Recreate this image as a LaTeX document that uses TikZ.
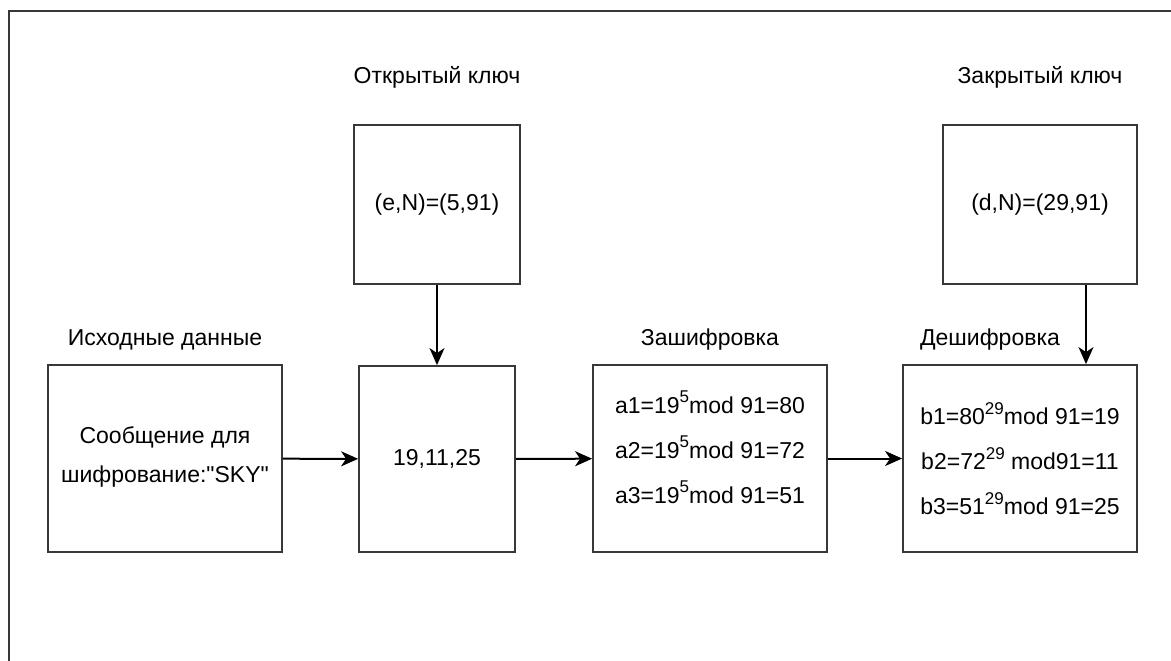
\documentclass[tikz,border=0pt]{standalone}
\usepackage{fontspec}
\setmainfont{Liberation Sans}[Ligatures=TeXOff]
\usepackage{xcolor}
\definecolor{frame}{rgb}{0.22, 0.22, 0.22}
\usetikzlibrary{positioning,arrows.meta}

\newcommand{\pow}[1]{\raisebox{0.45em}{\fontsize{17}{17}\selectfont #1}}

\tikzset{
	box/.style={draw=frame, line width=1.8pt, font=\fontsize{23}{39}\selectfont, align=center, inner sep=0pt},
	title/.style={font=\fontsize{23}{28}\selectfont, inner sep=0pt},
	arr/.style={-{Stealth[length=17pt,width=15pt,inset=5pt]}, line width=2pt, draw=black}
}

\begin{document}
\begin{tikzpicture}[x=1pt,y=-1pt]
				\useasboundingbox (0,0) rectangle (1171,661);
				% outer frame
				\draw[frame, line width=2pt] (9,661) -- (9,11) -- (1171,11);
				% blocks
				\node (src) [box, minimum width=234pt, minimum height=187pt] at (165,458.5) {\mbox{}\\[-26pt]Сообщение для\\шифрование:"SKY"};
				\node (pub) [box, minimum width=166pt, minimum height=159pt] at (437,204.5) {(e,N)=(5,91)};
				\node (num) [box, minimum width=156pt, minimum height=186pt] at (437,459) {19,11,25};
				\node (enc) [box, minimum width=234pt, minimum height=187pt, font=\fontsize{23}{45}\selectfont] at (710,458.5) {a1=19\pow{5}mod 91=80\\a2=19\pow{5}mod 91=72\\a3=19\pow{5}mod 91=51\\[-22pt]\mbox{}};
				\node (dec) [box, minimum width=234pt, minimum height=187pt, font=\fontsize{23}{45}\selectfont] at (1020,458.5) {b1=80\pow{29}mod 91=19\\b2=72\pow{29} mod91=11\\b3=51\pow{29}mod 91=25};
				\node (priv) [box, minimum width=194pt, minimum height=159pt] at (1040,204.5) {(d,N)=(29,91)};
				% titles
				\node (pubtitle) [title] at (437,77) {Открытый ключ};
				\node (privtitle) [title] at (1040,77) {Закрытый ключ};
				\node (srctitle) [title] at (165,340) {Исходные данные};
				\node (enctitle) [title] at (710,340) {Зашифровка};
				\node (dectitle) [title] at (990,340) {Дешифровка};
				% arrows
				\coordinate [] (tap) at (1086,0);
				\draw[arr] (src) -- (num);
				\draw[arr] (num) -- (enc);
				\draw[arr] (enc) -- (dec);
				\draw[arr] (pub) -- (num);
				\draw[arr] (priv.south -| tap) -- (dec.north -| tap);
			\end{tikzpicture}
\end{document}
